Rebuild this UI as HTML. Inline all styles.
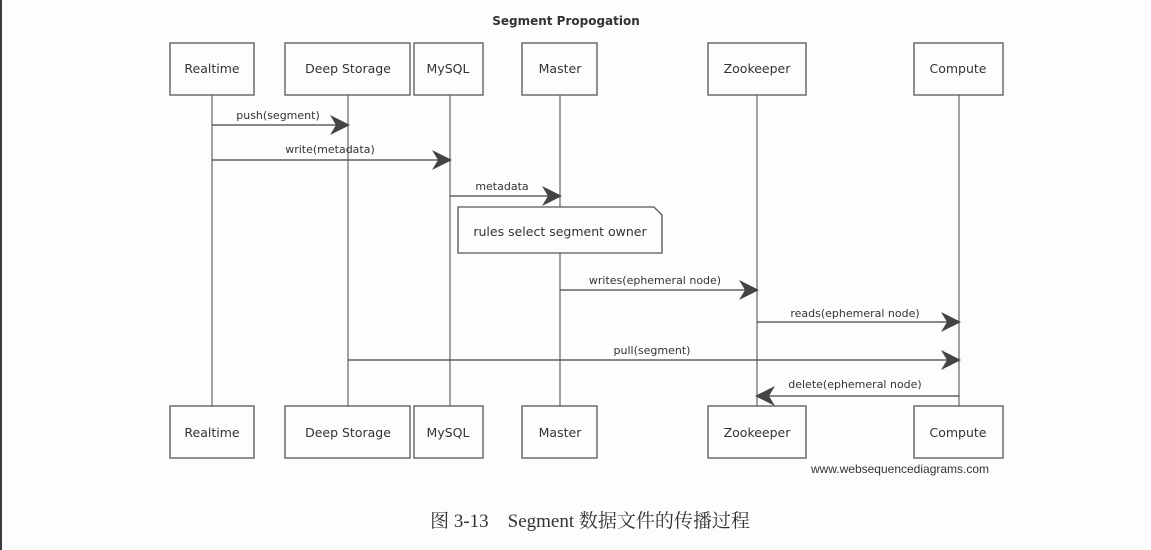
<!DOCTYPE html>
<html><head><meta charset="utf-8"><style>
html,body{margin:0;padding:0;background:#fdfdfd;}
body{width:1151px;height:550px;position:relative;overflow:hidden;}
svg{position:absolute;left:0;top:0;}
text{font-family:"Comic Sans MS","DejaVu Sans",sans-serif;fill:#333;}
</style></head><body>
<svg width="1151" height="550" viewBox="0 0 1151 550">
<defs><marker id="a" markerWidth="20" markerHeight="20" refX="18" refY="10" orient="auto" markerUnits="userSpaceOnUse"><path d="M0,0 L20,10 L0,20 L6,10 Z" fill="#444"/></marker></defs>
<rect x="0" y="0" width="2" height="550" fill="#3a3d40"/>
<text x="566" y="25" font-size="12" text-anchor="middle" font-weight="bold">Segment Propogation</text>
<g stroke="#666" stroke-width="1.2" fill="none">
<line x1="212" y1="95" x2="212" y2="406"/>
<line x1="348" y1="95" x2="348" y2="406"/>
<line x1="450" y1="95" x2="450" y2="406"/>
<line x1="560" y1="95" x2="560" y2="406"/>
<line x1="757" y1="95" x2="757" y2="406"/>
<line x1="959" y1="95" x2="959" y2="406"/>
</g>
<g stroke="#555" stroke-width="1.3" fill="#fdfdfd">
<rect x="170" y="43" width="84" height="52"/><rect x="285" y="43" width="125" height="52"/><rect x="414" y="43" width="69" height="52"/><rect x="522" y="43" width="75" height="52"/><rect x="708" y="43" width="98" height="52"/><rect x="914" y="43" width="89" height="52"/>
<rect x="170" y="406" width="84" height="52"/><rect x="285" y="406" width="125" height="52"/><rect x="414" y="406" width="69" height="52"/><rect x="522" y="406" width="75" height="52"/><rect x="708" y="406" width="98" height="52"/><rect x="914" y="406" width="89" height="52"/>
<path d="M458,207 L654,207 L662,215 L662,253 L458,253 Z"/>
</g>
<g font-size="12.5" text-anchor="middle">
<text x="212" y="73">Realtime</text><text x="348" y="73">Deep Storage</text><text x="448" y="73">MySQL</text><text x="560" y="73">Master</text><text x="757" y="73">Zookeeper</text><text x="958" y="73">Compute</text>
<text x="212" y="437">Realtime</text><text x="348" y="437">Deep Storage</text><text x="448" y="437">MySQL</text><text x="560" y="437">Master</text><text x="757" y="437">Zookeeper</text><text x="958" y="437">Compute</text>
<text x="560" y="236">rules select segment owner</text>
</g>
<g stroke="#444" stroke-width="1.3" marker-end="url(#a)">
<line x1="212" y1="125" x2="348" y2="125"/>
<line x1="212" y1="160" x2="450" y2="160"/>
<line x1="450" y1="196" x2="560" y2="196"/>
<line x1="560" y1="290" x2="757" y2="290"/>
<line x1="757" y1="322" x2="959" y2="322"/>
<line x1="348" y1="360" x2="959" y2="360"/>
<line x1="959" y1="396" x2="757" y2="396"/>
</g>
<g font-size="11" text-anchor="middle">
<text x="278" y="119">push(segment)</text>
<text x="330" y="153">write(metadata)</text>
<text x="502" y="190">metadata</text>
<text x="655" y="284">writes(ephemeral node)</text>
<text x="855" y="317">reads(ephemeral node)</text>
<text x="652" y="354">pull(segment)</text>
<text x="855" y="388">delete(ephemeral node)</text>
</g>
<text x="900" y="473" font-size="12" text-anchor="middle" style="font-family:'Liberation Sans',sans-serif">www.websequencediagrams.com</text>
<text x="590" y="527" font-size="19" text-anchor="middle" style="font-family:'Liberation Serif','Noto Serif CJK SC',serif">图 3-13　Segment 数据文件的传播过程</text>
</svg>
</body></html>
